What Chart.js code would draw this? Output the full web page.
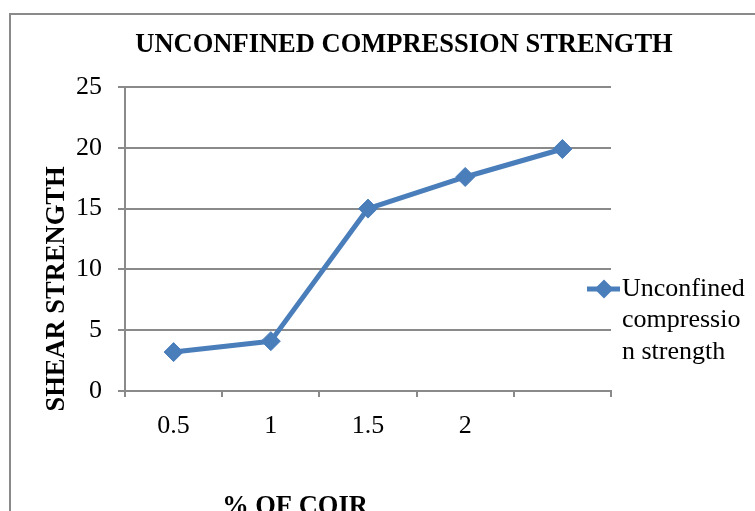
<!DOCTYPE html>
<html>
<head>
<meta charset="utf-8">
<script src="https://cdn.jsdelivr.net/npm/chart.js@4/dist/chart.umd.min.js"></script>
<style>
  html, body { margin: 0; padding: 0; background: #fff; }
  #wrap { width: 755px; height: 511px; }
</style>
</head>
<body>
<div id="wrap"><canvas id="c" width="755" height="511"></canvas></div>
<script>
// Coir content (%) and measured strength
const categories = ['0.5', '1', '1.5', '2', ''];
const strength = [3.2, 4.1, 15, 17.6, 19.9];
const yTicks = [0, 5, 10, 15, 20, 25];

const chartTitle = 'UNCONFINED COMPRESSION STRENGTH';
const xTitle = '% OF COIR';
const yTitle = 'SHEAR STRENGTH';
const seriesName = 'Unconfined compression strength';

const SERIF = '"Liberation Serif", "Times New Roman", serif';
const BLUE = '#4A7EBB';
const GRID = '#8a8a8a';

// Paint the white page, the frame, the titles and the side legend
const decorations = {
  id: 'decorations',
  beforeDraw(chart) {
    const ctx = chart.ctx;
    ctx.save();
    ctx.fillStyle = '#fff';
    ctx.fillRect(0, 0, chart.width, chart.height);
    ctx.strokeStyle = GRID;
    ctx.lineWidth = 2;
    ctx.strokeRect(10, 14, 900, 700);
    ctx.restore();
  },
  afterDraw(chart) {
    const ctx = chart.ctx;
    const area = chart.chartArea;
    ctx.save();
    ctx.fillStyle = '#000';
    ctx.textAlign = 'center';
    ctx.textBaseline = 'middle';
    ctx.font = 'bold 26.5px ' + SERIF;
    ctx.fillText(chartTitle, 404, 45);

    ctx.textBaseline = 'alphabetic';
    ctx.fillText(xTitle, 295, 514);

    ctx.save();
    ctx.translate(57, 289);
    ctx.rotate(-Math.PI / 2);
    ctx.textBaseline = 'middle';
    ctx.fillText(yTitle, 0, 0);
    ctx.restore();

    // legend: line sample with diamond, then wrapped label
    const ds = chart.data.datasets[0];
    const ly = 289;
    ctx.strokeStyle = ds.borderColor;
    ctx.lineWidth = ds.borderWidth;
    ctx.beginPath();
    ctx.moveTo(area.right - 24, ly);
    ctx.lineTo(area.right + 9, ly);
    ctx.stroke();
    const cx = area.right - 7, r = ds.pointRadius;
    ctx.fillStyle = ds.pointBackgroundColor;
    ctx.beginPath();
    ctx.moveTo(cx - r, ly); ctx.lineTo(cx, ly - r);
    ctx.lineTo(cx + r, ly); ctx.lineTo(cx, ly + r);
    ctx.closePath();
    ctx.fill();

    ctx.font = '26px ' + SERIF;
    ctx.fillStyle = '#000';
    ctx.textAlign = 'left';
    ctx.textBaseline = 'middle';
    const lines = wrapChars(ctx, ds.label, 127);
    lines.forEach((t, i) => ctx.fillText(t, area.right + 11, ly + i * 31.5));
    ctx.restore();
  }
};

// Word wrap that splits a word when it alone is wider than the box
function wrapChars(ctx, text, maxW) {
  const out = [];
  let cur = '';
  text.split(' ').forEach(word => {
    let trial = cur ? cur + ' ' + word : word;
    if (ctx.measureText(trial).width <= maxW) { cur = trial; return; }
    if (cur) { out.push(cur); cur = ''; }
    let w = word;
    while (ctx.measureText(w).width > maxW) {
      let k = w.length;
      while (k > 1 && ctx.measureText(w.slice(0, k)).width > maxW) k--;
      out.push(w.slice(0, k));
      w = w.slice(k);
    }
    cur = w;
  });
  if (cur) out.push(cur);
  return out;
}

new Chart(document.getElementById('c'), {
  type: 'line',
  data: {
    labels: categories,
    datasets: [{
      label: seriesName,
      data: strength,
      borderColor: BLUE,
      backgroundColor: BLUE,
      borderWidth: 5,
      pointStyle: 'rectRot',
      pointRadius: 9.5,
      pointHoverRadius: 9.5,
      pointBackgroundColor: BLUE,
      pointBorderColor: BLUE,
      pointBorderWidth: 1,
      tension: 0,
      borderJoinStyle: 'round',
      clip: false
    }]
  },
  options: {
    responsive: false,
    animation: false,
    events: [],
    layout: { padding: { top: 87, left: 0, right: 144, bottom: 0 } },
    plugins: {
      legend: { display: false },
      title: { display: false },
      tooltip: { enabled: false }
    },
    scales: {
      x: {
        type: 'category',
        offset: true,
        afterFit(scale) { scale.height = 120; },
        grid: {
          display: true,
          offset: true,
          drawOnChartArea: false,
          drawTicks: true,
          tickLength: 6,
          color: GRID,
          lineWidth: 2
        },
        border: { display: true, color: GRID, width: 2 },
        ticks: {
          color: '#000',
          font: { family: SERIF, size: 26 },
          padding: 14,
          maxRotation: 0,
          autoSkip: false
        }
      },
      y: {
        min: 0,
        max: 25,
        afterFit(scale) { scale.width = 125; },
        afterBuildTicks(scale) { scale.ticks = yTicks.map(v => ({ value: v })); },
        grid: {
          color: GRID,
          lineWidth: 2,
          drawTicks: true,
          tickLength: 7
        },
        border: { display: true, color: GRID, width: 2 },
        ticks: {
          color: '#000',
          font: { family: SERIF, size: 26 },
          padding: 16
        }
      }
    }
  },
  plugins: [decorations]
});
</script>
</body>
</html>
